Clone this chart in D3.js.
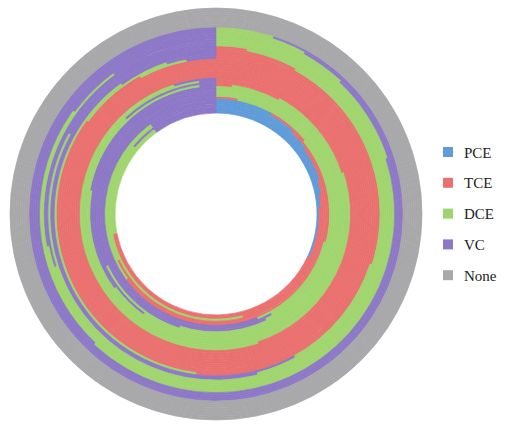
<!DOCTYPE html>
<html>
<head>
<meta charset="utf-8">
<script src="https://cdn.jsdelivr.net/npm/d3@7"></script>
<style>
  html, body { margin: 0; padding: 0; background: #fff; }
  svg { display: block; }
</style>
</head>
<body>
<svg id="chart" width="512" height="425"></svg>
<script>
// Compound categories, drawn clockwise from 12 o'clock in this order
const categories = ["PCE", "TCE", "DCE", "VC", "None"];
const colors = ["#5f9bd8", "#e9706f", "#a0d56e", "#8d77c7", "#a8a8aa"];

// Share (%) of each compound per sample ring, innermost ring first
const pce  = [32, 24, 22, 20, 15, 12, 8, 0, 0, 0, 0, 0, 0, 0, 0, 0, 0,
              0, 0, 0, 0, 0, 0, 0, 0, 0,
              0, 0, 0, 0, 0, 0, 0, 0, 0, 0, 0, 0, 0, 0, 0,
              0, 0, 0, 0, 0, 0, 0, 0, 0];
const tce  = [40, 48, 24, 48, 50, 17, 6, 3, 0, 0, 0, 0, 0, 2, 8, 20, 45,
              100, 100, 100, 100, 100, 100, 100, 100, 100,
              92, 85, 52, 30, 8, 3, 0, 0, 0, 0, 0, 0, 0, 0, 0,
              0, 0, 0, 0, 0, 0, 0, 0, 0];
const dce  = [18, 18, 40, 22, 25, 15, 28, 40, 55, 68, 60, 65, 78, 96, 80, 78, 50,
              0, 0, 0, 0, 0, 0, 0, 0, 0,
              5, 10, 38, 12, 38, 80, 70, 72, 90, 85, 62, 20, 12, 8, 5,
              0, 0, 0, 0, 0, 0, 0, 0, 0];
const vc   = [10, 10, 14, 10, 10, 56, 58, 57, 45, 32, 40, 35, 22, 2, 12, 2, 5,
              0, 0, 0, 0, 0, 0, 0, 0, 0,
              3, 5, 10, 58, 54, 17, 30, 28, 10, 15, 38, 80, 88, 92, 95,
              0, 0, 0, 0, 0, 0, 0, 0, 0];
const none = [0, 0, 0, 0, 0, 0, 0, 0, 0, 0, 0, 0, 0, 0, 0, 0, 0,
              0, 0, 0, 0, 0, 0, 0, 0, 0,
              0, 0, 0, 0, 0, 0, 0, 0, 0, 0, 0, 0, 0, 0, 0,
              100, 100, 100, 100, 100, 100, 100, 100, 100];

const series = [pce, tce, dce, vc, none];
const nRings = pce.length;
const rings = d3.range(nRings).map(i => categories.map((c, k) => ({ cat: c, k, value: series[k][i] })));

const svg = d3.select("#chart");
const cx = 216, cy = 214;
const innerR = 101, outerR = 206;

// ring index -> radius
const r = d3.scaleLinear().domain([0, nRings]).range([innerR, outerR]);
const color = d3.scaleOrdinal().domain(categories).range(colors);

const pie = d3.pie().sort(null).value(d => d.value).startAngle(0).endAngle(2 * Math.PI);

const g = svg.append("g").attr("transform", `translate(${cx},${cy})`);

rings.forEach((ring, i) => {
  const arc = d3.arc().innerRadius(r(i)).outerRadius(r(i + 1));
  g.append("g")
    .selectAll("path")
    .data(pie(ring).filter(d => d.data.value > 0))
    .join("path")
    .attr("d", arc)
    .attr("fill", d => color(d.data.cat))
    .attr("stroke", d => color(d.data.cat))
    .attr("stroke-width", 0.7);
});

// Legend
const legend = svg.append("g").attr("transform", "translate(443,147)");
const item = legend.selectAll("g").data(categories).join("g")
  .attr("transform", (d, i) => `translate(0,${i * 30.8})`);
item.append("rect")
  .attr("width", 10).attr("height", 10)
  .attr("fill", d => color(d));
item.append("text")
  .attr("x", 21).attr("y", 10.5)
  .attr("font-family", "'Liberation Serif', 'Times New Roman', serif")
  .attr("font-size", 15)
  .attr("fill", "#222")
  .text(d => d);
</script>
</body>
</html>
